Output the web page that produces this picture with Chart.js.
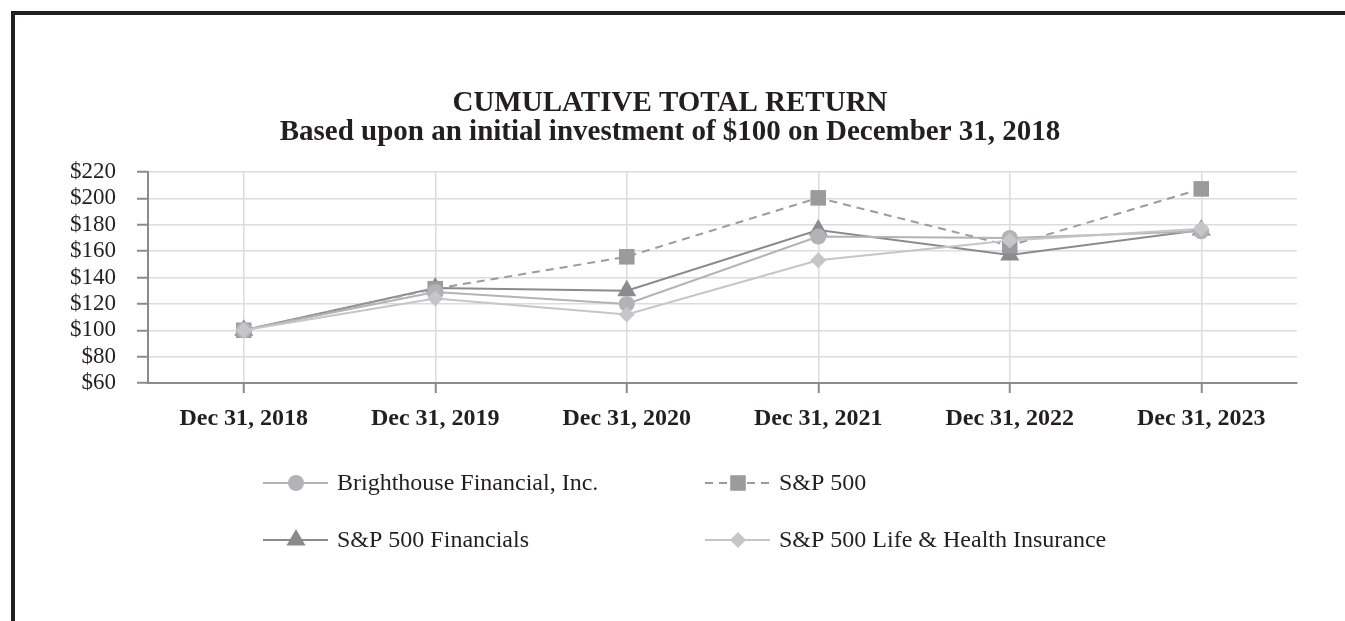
<!DOCTYPE html>
<html>
<head>
<meta charset="utf-8">
<script src="https://cdn.jsdelivr.net/npm/chart.js@4.4.0/dist/chart.umd.min.js"></script>
<style>
    html, body { margin: 0; padding: 0; background: #fff; overflow: hidden; }
    #marco {
        position: absolute; left: 11px; top: 11px;
        width: 1330px; height: 606px;
        border-top: 4px solid #231f20; border-left: 4px solid #231f20;
    }
    canvas { display: block; }
</style>
</head>
<body>
<div id="marco"><canvas id="grafica" width="1330" height="606"></canvas></div>
<script>
const fechas = ['Dec 31, 2018', 'Dec 31, 2019', 'Dec 31, 2020', 'Dec 31, 2021', 'Dec 31, 2022', 'Dec 31, 2023'];
const titulo = ['CUMULATIVE TOTAL RETURN', 'Based upon an initial investment of $100 on December 31, 2018'];

const nombres = ['Brighthouse Financial, Inc.', 'S&P 500', 'S&P 500 Financials', 'S&P 500 Life & Health Insurance'];
const brighthouse = [100, 129, 120, 171, 170, 175];
const sp500 = [100, 131.5, 155.7, 200.4, 164.1, 207.2];
const financieras = [100, 132, 130, 176, 157, 176];
const vidaSalud = [100, 124, 112, 153, 168, 177];

const ejeMin = 60;
const ejeMax = 220;
const ejePaso = 20;

const tinta = '#231f20';
const serif = '"Liberation Serif", "Times New Roman", serif';

function serie(nombre, datos, color, estilo, radio, orden, guiones) {
    return {
        label: nombre,
        data: datos,
        borderColor: color,
        backgroundColor: color,
        borderWidth: 2,
        borderDash: guiones || [],
        pointStyle: estilo,
        pointRadius: radio,
        pointBorderWidth: 0,
        pointBackgroundColor: color,
        tension: 0,
        fill: false,
        order: orden
    };
}

// titulo de dos lineas centrado
const tituloPlugin = {
    id: 'tituloDoble',
    afterDraw(chart) {
        const ctx = chart.ctx;
        ctx.save();
        ctx.fillStyle = tinta;
        ctx.font = 'bold 29px ' + serif;
        ctx.textAlign = 'center';
        ctx.textBaseline = 'middle';
        ctx.fillText(titulo[0], 655, 89);
        ctx.fillText(titulo[1], 655, 118);
        ctx.restore();
    }
};

function marca(ctx, estilo, r, x, y) {
    ctx.beginPath();
    if (estilo === 'circle') {
        ctx.arc(x, y, r, 0, Math.PI * 2);
    } else if (estilo === 'rect') {
        const s = r * Math.SQRT1_2;
        ctx.rect(x - s, y - s, 2 * s, 2 * s);
    } else if (estilo === 'triangle') {
        ctx.moveTo(x, y - r);
        ctx.lineTo(x + r * Math.sin(Math.PI * 2 / 3), y + r * 0.5);
        ctx.lineTo(x - r * Math.sin(Math.PI * 2 / 3), y + r * 0.5);
        ctx.closePath();
    } else {
        ctx.moveTo(x, y - r);
        ctx.lineTo(x + r, y);
        ctx.lineTo(x, y + r);
        ctx.lineTo(x - r, y);
        ctx.closePath();
    }
    ctx.fill();
}

// leyenda en dos columnas debajo del grafico
const leyendaPlugin = {
    id: 'leyendaGrid',
    afterDraw(chart) {
        const ctx = chart.ctx;
        const colX = [248, 690];
        const filaY = [468, 525];
        ctx.save();
        chart.data.datasets.forEach((ds, i) => {
            const x0 = colX[i % 2];
            const y = filaY[Math.floor(i / 2)];
            ctx.strokeStyle = ds.borderColor;
            ctx.lineWidth = 2;
            ctx.setLineDash(ds.borderDash);
            ctx.beginPath();
            ctx.moveTo(x0, y);
            ctx.lineTo(x0 + 65, y);
            ctx.stroke();
            ctx.setLineDash([]);
            ctx.fillStyle = ds.pointBackgroundColor;
            marca(ctx, ds.pointStyle, ds.pointRadius, x0 + 33, y);
            ctx.fillStyle = tinta;
            ctx.font = '24px ' + serif;
            ctx.textAlign = 'left';
            ctx.textBaseline = 'middle';
            ctx.fillText(ds.label, x0 + 74, y + 1);
        });
        ctx.restore();
    }
};

const grafica = new Chart(document.getElementById('grafica'), {
    type: 'line',
    data: {
        labels: fechas,
        datasets: [
            serie(nombres[0], brighthouse, '#b3b3b5', 'circle', 8, 1),
            serie(nombres[1], sp500, '#9b9b9d', 'rect', 11, 2, [8, 6]),
            serie(nombres[2], financieras, '#8b8b8d', 'triangle', 11, 3),
            serie(nombres[3], vidaSalud, '#c6c6c8', 'rectRot', 8, 0)
        ]
    },
    options: {
        responsive: false,
        animation: false,
        layout: { padding: { top: 157, left: 0, right: 48, bottom: 178 } },
        plugins: {
            legend: { display: false },
            title: { display: false },
            tooltip: { enabled: false }
        },
        scales: {
            x: {
                offset: true,
                afterFit: (eje) => { eje.height = 60; },
                grid: { color: '#dcdcdc', lineWidth: 1.5, offset: false, tickLength: 10, tickColor: '#8b8b8d', tickWidth: 2 },
                border: { color: '#8b8b8d', width: 2 },
                ticks: { color: tinta, padding: 11, maxRotation: 0, autoSkip: false, font: { family: serif, size: 24, weight: 'bold' } }
            },
            y: {
                min: ejeMin,
                max: ejeMax,
                afterFit: (eje) => { eje.width = 133; },
                grid: { color: '#dcdcdc', lineWidth: 1.5, tickLength: 11, tickColor: '#8b8b8d', tickWidth: 2 },
                border: { color: '#8b8b8d', width: 2 },
                ticks: {
                    stepSize: ejePaso,
                    autoSkip: false,
                    color: tinta,
                    padding: 21,
                    font: { family: serif, size: 23 },
                    callback: (v) => '$' + v
                }
            }
        }
    },
    plugins: [tituloPlugin, leyendaPlugin]
});
</script>
</body>
</html>
